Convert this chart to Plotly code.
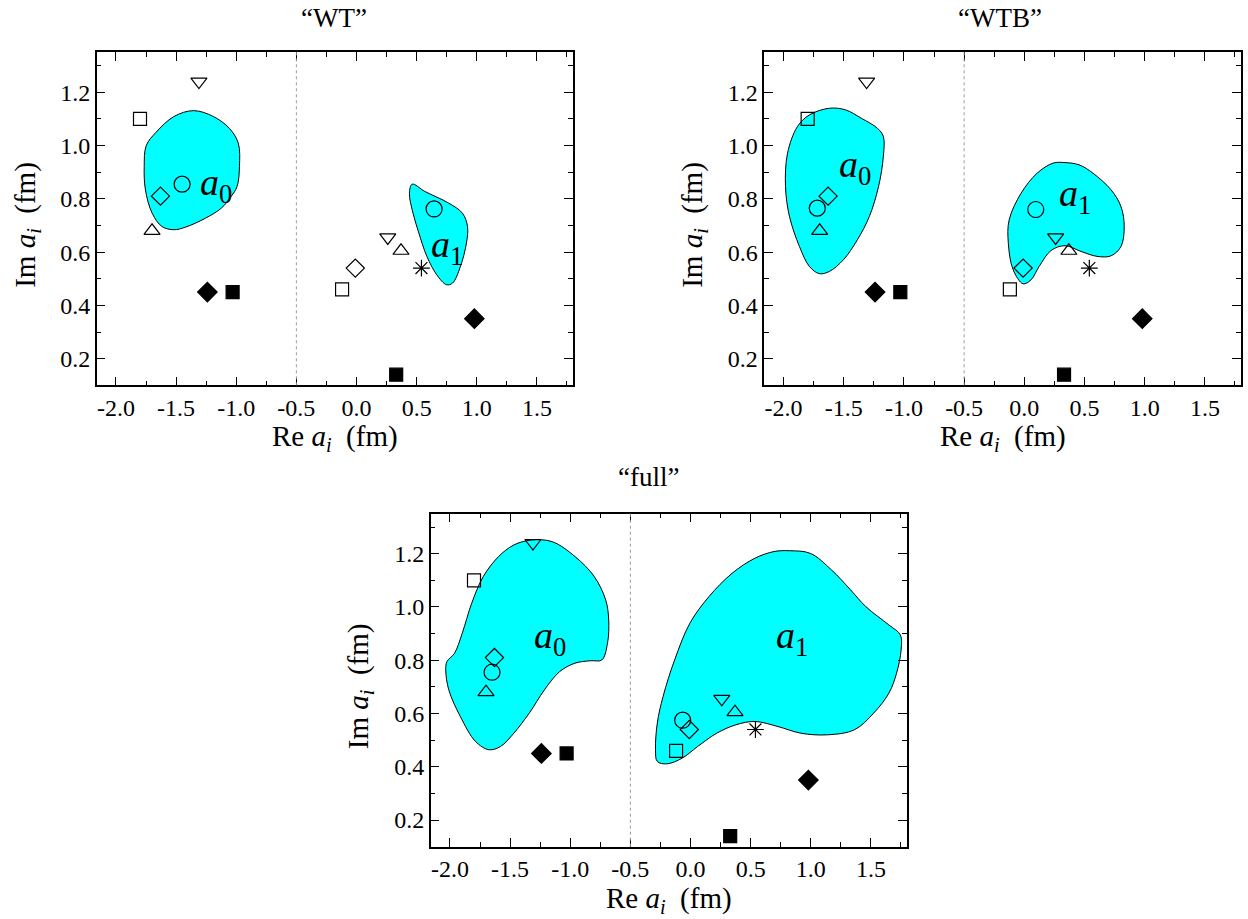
import plotly.graph_objects as go

W, H = 1248, 919
FONT = "Liberation Serif, Times New Roman, serif"

# ---------------- data ----------------
panels = ["WT", "WTB", "full"]

# reference points (same in every panel)
sq_open_x = [-1.80, -0.12];  sq_open_y = [1.10, 0.46]
tdn_open_x = [-1.31, 0.26];  tdn_open_y = [1.24, 0.655]
tup_open_x = [-1.70, 0.37];  tup_open_y = [0.68, 0.605]
dia_open_x = [-1.63, -0.01]; dia_open_y = [0.81, 0.54]
star_x = [0.54];             star_y = [0.54]
dia_fill_x = [-1.24, 0.98];  dia_fill_y = [0.45, 0.35]
sq_fill_x = [-1.03, 0.33];   sq_fill_y = [0.45, 0.14]

# fitted values (circles) per panel
circ_x = {"WT": [-1.45, 0.645], "WTB": [-1.72, 0.095], "full": [-1.65, -0.065]}
circ_y = {"WT": [0.855, 0.762], "WTB": [0.765, 0.76], "full": [0.755, 0.575]}

# confidence regions (outlines)
wt_a0_x = [-1.354, -1.19, -1.058, -0.983, -0.973, -0.993, -1.042, -1.124, -1.255, -1.42,
           -1.518, -1.617, -1.699, -1.755, -1.765, -1.748, -1.666, -1.518]
wt_a0_y = [1.131, 1.109, 1.065, 1.009, 0.921, 0.846, 0.809, 0.765, 0.7275, 0.694,
           0.684, 0.696, 0.746, 0.834, 0.921, 1.0, 1.05, 1.109]
wt_a1_x = [0.463, 0.569, 0.766, 0.881, 0.923, 0.914, 0.864, 0.799, 0.749, 0.667,
           0.585, 0.519, 0.47, 0.44]
wt_a1_y = [0.855, 0.8275, 0.784, 0.746, 0.696, 0.634, 0.546, 0.484, 0.4775, 0.515,
           0.584, 0.671, 0.746, 0.821]
wtb_a0_x = [-1.619, -1.785, -1.885, -1.967, -1.984, -1.951, -1.868, -1.785, -1.702, -1.619,
            -1.503, -1.387, -1.287, -1.211, -1.171, -1.171, -1.221, -1.354, -1.486]
wtb_a0_y = [1.14, 1.115, 1.071, 0.971, 0.846, 0.734, 0.621, 0.546, 0.519, 0.5275,
            0.571, 0.646, 0.734, 0.846, 0.959, 1.034, 1.065, 1.1025, 1.134]
wtb_a1_x = [0.338, 0.239, 0.106, -0.027, -0.126, -0.133, -0.093, -0.01, 0.056, 0.123,
            0.222, 0.338, 0.471, 0.604, 0.72, 0.803, 0.83, 0.803, 0.72, 0.571, 0.455]
wtb_a1_y = [0.936, 0.934, 0.896, 0.821, 0.721, 0.634, 0.534, 0.481, 0.496, 0.546,
            0.606, 0.624, 0.6025, 0.584, 0.586, 0.621, 0.696, 0.771, 0.834, 0.896, 0.9275]
full_a0_x = [-1.325, -1.15, -0.96, -0.8, -0.705, -0.68, -0.69, -0.737, -0.832, -0.96,
             -1.087, -1.214, -1.341, -1.469, -1.58, -1.676, -1.787, -1.914, -2.01, -2.035,
             -2.025, -1.962, -1.898, -1.819, -1.723, -1.596, -1.469]
full_a0_y = [1.251, 1.245, 1.189, 1.114, 1.026, 0.951, 0.864, 0.801, 0.798, 0.789,
             0.7575, 0.689, 0.601, 0.526, 0.476, 0.464, 0.495, 0.589, 0.689, 0.764,
             0.795, 0.826, 0.901, 1.014, 1.114, 1.189, 1.2325]
full_a1_x = [0.822, 0.997, 1.172, 1.331, 1.458, 1.649, 1.745, 1.751, 1.713, 1.649,
             1.522, 1.363, 1.14, 0.918, 0.727, 0.536, 0.377, 0.218, 0.059, -0.069,
             -0.196, -0.276, -0.291, -0.276, -0.228, -0.132, -0.005, 0.154, 0.345, 0.536, 0.695]
full_a1_y = [1.211, 1.201, 1.139, 1.064, 1.001, 0.9325, 0.895, 0.839, 0.751, 0.676,
             0.601, 0.539, 0.52, 0.526, 0.551, 0.57, 0.5575, 0.526, 0.476, 0.4325,
             0.411, 0.42, 0.464, 0.564, 0.664, 0.801, 0.939, 1.039, 1.126, 1.183, 1.208]

regions = {
    "WT": [(wt_a0_x, wt_a0_y), (wt_a1_x, wt_a1_y)],
    "WTB": [(wtb_a0_x, wtb_a0_y), (wtb_a1_x, wtb_a1_y)],
    "full": [(full_a0_x, full_a0_y), (full_a1_x, full_a1_y)],
}

# region labels (text position)
label_x = {"WT": [-1.17, 0.75], "WTB": [-1.41, 0.42], "full": [-1.17, 0.84]}
label_y = {"WT": [0.853, 0.62], "WTB": [0.921, 0.809], "full": [0.8825, 0.8825]}
label_text = ["<i>a</i><sub>0</sub>", "<i>a</i><sub>1</sub>"]

x_tick_vals = [-2.0, -1.5, -1.0, -0.5, 0.0, 0.5, 1.0, 1.5]
x_tick_text = ["-2.0", "-1.5", "-1.0", "-0.5", "0.0", "0.5", "1.0", "1.5"]
y_tick_vals = [0.2, 0.4, 0.6, 0.8, 1.0, 1.2]
y_tick_text = ["0.2", "0.4", "0.6", "0.8", "1.0", "1.2"]
x_minor = [-2.25, -1.75, -1.25, -0.75, -0.25, 0.25, 0.75, 1.25, 1.75]
y_minor = [0.1, 0.3, 0.5, 0.7, 0.9, 1.1, 1.3]
x_range = [-2.16, 1.80]
y_range = [0.1, 1.35]
divider_x = -0.5

# ---------------- layout (pixel boxes) ----------------
boxes = {  # left, right, top, bottom in px
    "WT": (96.7, 573.0, 52.3, 385.3),
    "WTB": (764.3, 1241.0, 52.3, 385.3),
    "full": (430.7, 907.0, 513.7, 846.7),
}
title_pos = {"WT": (334, 18), "WTB": (1000, 18), "full": (648, 477)}
ytitle_x = {"WT": 27, "WTB": 694, "full": 360}

fig = go.Figure()
annotations = []
shapes = []

for i, p in enumerate(panels):
    n = "" if i == 0 else str(i + 1)
    xa, ya = "x" + n, "y" + n
    L, R, T, B = boxes[p]
    axis_common = dict(
        showline=True, linecolor="black", linewidth=1.5, mirror="allticks",
        ticks="inside", ticklen=9, tickwidth=1, tickcolor="black",
        showgrid=False, zeroline=False,
        tickfont=dict(family=FONT, size=24, color="black"),
    )
    fig.update_layout(**{
        "xaxis" + n: dict(domain=[L / W, R / W], range=x_range, anchor=ya,
                          tickmode="array", tickvals=x_tick_vals, ticktext=x_tick_text,
                          minor=dict(tickmode="array", tickvals=x_minor, ticks="inside",
                                     ticklen=5, tickcolor="black", tickwidth=1),
                          **axis_common),
        "yaxis" + n: dict(domain=[1 - B / H, 1 - T / H], range=y_range, anchor=xa,
                          tickmode="array", tickvals=y_tick_vals, ticktext=y_tick_text,
                          minor=dict(tickmode="array", tickvals=y_minor, ticks="inside",
                                     ticklen=5, tickcolor="black", tickwidth=1),
                          **axis_common),
    })

    for rx, ry in regions[p]:
        fig.add_trace(go.Scatter(
            x=rx + rx[:1], y=ry + ry[:1], mode="lines", fill="toself",
            fillcolor="#00FFFF", line=dict(color="black", width=1, shape="spline", smoothing=1),
            xaxis=xa, yaxis=ya, showlegend=False, hoverinfo="skip"))

    markers = [
        (sq_open_x, sq_open_y, "square-open", 13),
        (tdn_open_x, tdn_open_y, "triangle-down-open", 14),
        (tup_open_x, tup_open_y, "triangle-up-open", 14),
        (dia_open_x, dia_open_y, "diamond-open", 14),
        (star_x, star_y, "asterisk-open", 14),
        (dia_fill_x, dia_fill_y, "diamond", 15),
        (sq_fill_x, sq_fill_y, "square", 13),
        (circ_x[p], circ_y[p], "circle-open", 16),
    ]
    for mx, my, sym, sz in markers:
        fig.add_trace(go.Scatter(
            x=mx, y=my, mode="markers",
            marker=dict(symbol=sym, size=sz, color="black", line=dict(color="black", width=1.2)),
            xaxis=xa, yaxis=ya, showlegend=False))

    for tx, ty, tt in zip(label_x[p], label_y[p], label_text):
        annotations.append(dict(x=tx, y=ty, xref=xa, yref=ya, text=tt, showarrow=False,
                                xanchor="center", yanchor="middle",
                                font=dict(family=FONT, size=38, color="black")))

    shapes.append(dict(type="line", xref=xa, yref=ya + " domain", x0=divider_x, x1=divider_x,
                       y0=0, y1=1, line=dict(color="#999999", width=1, dash="dot")))

    tx, ty = title_pos[p]
    annotations.append(dict(x=tx / W, y=1 - ty / H, xref="paper", yref="paper",
                            text="\u201c" + p + "\u201d", showarrow=False,
                            xanchor="center", yanchor="middle",
                            font=dict(family=FONT, size=27, color="black")))
    annotations.append(dict(x=(L + R) / 2 / W, y=1 - (B + 53) / H, xref="paper", yref="paper",
                            text="Re <i>a</i><sub><i>i</i></sub>  (fm)", showarrow=False,
                            xanchor="center", yanchor="middle",
                            font=dict(family=FONT, size=29, color="black")))
    annotations.append(dict(x=ytitle_x[p] / W, y=1 - ((T + B) / 2 + 6) / H, xref="paper",
                            yref="paper", text="Im <i>a</i><sub><i>i</i></sub>  (fm)",
                            showarrow=False, textangle=-90, xanchor="center", yanchor="middle",
                            font=dict(family=FONT, size=29, color="black")))

fig.update_layout(width=W, height=H, margin=dict(l=0, r=0, t=0, b=0),
                  paper_bgcolor="white", plot_bgcolor="white",
                  font=dict(family=FONT, color="black"),
                  annotations=annotations, shapes=shapes)

fig.write_html("out.html", config={"displayModeBar": False},
               post_script="document.body.style.margin='0';document.body.style.overflow='hidden';")
